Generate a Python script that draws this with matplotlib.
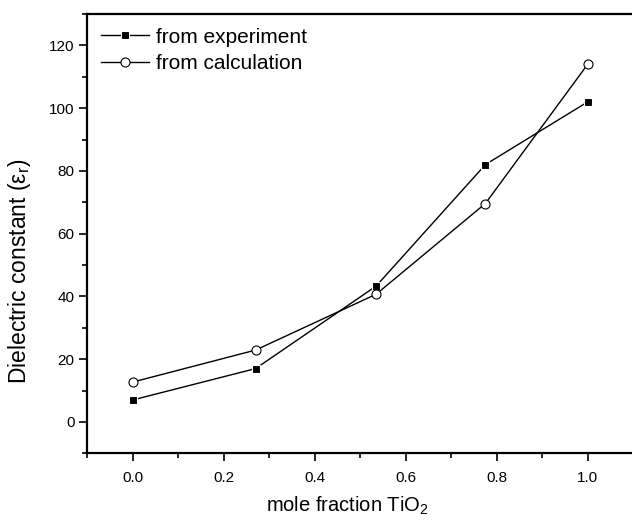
import matplotlib
matplotlib.use("Agg")
import matplotlib.pyplot as plt
from matplotlib.ticker import MultipleLocator

plt.rcParams['font.family'] = ['Liberation Sans', 'DejaVu Sans']
plt.rcParams['mathtext.fontset'] = 'custom'
plt.rcParams['mathtext.rm'] = 'Liberation Sans'
plt.rcParams['mathtext.it'] = 'Liberation Sans:italic'

# data
mole_frac = [0.0, 0.27, 0.535, 0.775, 1.0]
eps_exp = [7, 17, 43.3, 82, 102]
eps_calc = [12.7, 22.9, 40.7, 69.6, 114]

fig = plt.figure(figsize=(6.32, 5.22), dpi=100)
ax = fig.add_axes([0.138, 0.1316, 0.864, 0.8416])

ax.plot(mole_frac, eps_exp, color='black', lw=1, marker='s', ms=6.2,
        mfc='black', mec='white', mew=0.8, label='from experiment')
ax.plot(mole_frac, eps_calc, color='black', lw=1, marker='o', ms=6.5,
        mfc='white', mec='black', mew=0.8, label='from calculation')

ax.set_xlim(-0.1, 1.1)
ax.set_ylim(-10, 130)
ax.xaxis.set_minor_locator(MultipleLocator(0.1))
ax.yaxis.set_minor_locator(MultipleLocator(10))
ax.set_yticks([0, 20, 40, 60, 80, 100, 120])
ax.set_xticks([0.0, 0.2, 0.4, 0.6, 0.8, 1.0])
ax.set_xticklabels(['0.0', '0.2', '0.4', '0.6', '0.8', '1.0'])

ax.tick_params(which='major', direction='out', length=6, width=1.2,
               labelsize=11, pad=7)
ax.tick_params(axis='y', which='major', pad=3)
ax.tick_params(which='minor', direction='out', length=3.5, width=1.2)
for s in ['left', 'bottom', 'top']:
    ax.spines[s].set_linewidth(1.6)
ax.spines['right'].set_visible(False)

ax.set_xlabel('mole fraction TiO$_\\mathregular{2}$', fontsize=14.5)
ax.set_ylabel('Dielectric constant (ε$_\\mathregular{r}$)', fontsize=16.5)
ax.xaxis.set_label_coords(0.476, -0.095)
ax.yaxis.set_label_coords(-0.1, 0.415)

ax.legend(loc='upper left', frameon=False, fontsize=15, handlelength=2.3,
          handletextpad=0.35, labelspacing=0.35, borderaxespad=0.15,
          borderpad=0.5)

fig.savefig('out.png', dpi=100)
